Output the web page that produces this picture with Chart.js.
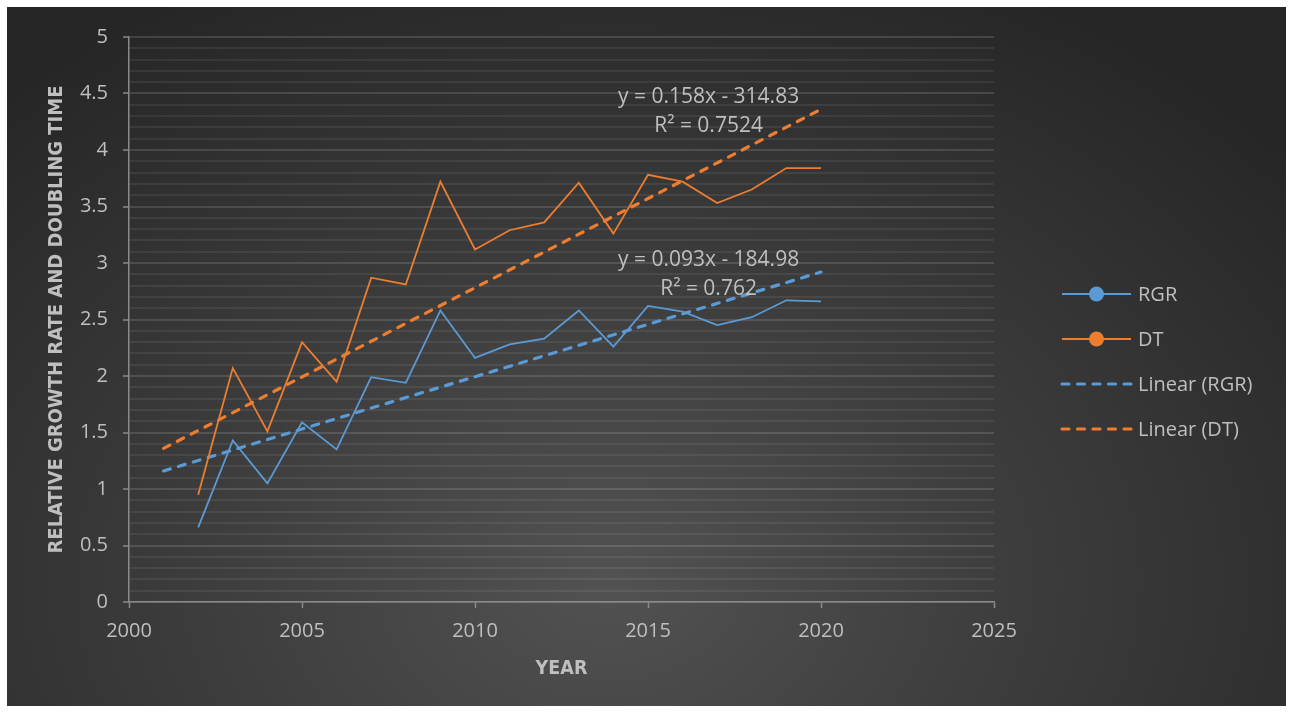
<!DOCTYPE html>
<html>
<head>
<meta charset="utf-8">
<script src="https://cdn.jsdelivr.net/npm/chart.js@4.4.1/dist/chart.umd.min.js"></script>
<style>
  html, body { margin: 0; padding: 0; background: #ffffff; }
  #wrap {
    position: absolute; left: 7px; top: 7px; width: 1279px; height: 699px;
    background: radial-gradient(ellipse 70% 95% at 47% 82%, #525252 0%, #3d3d3d 45%, #262626 100%);
  }
  canvas { display: block; }
</style>
</head>
<body>
<div id="wrap"><canvas id="chart" width="1279" height="699"></canvas></div>
<script>
const years = [2002, 2003, 2004, 2005, 2006, 2007, 2008, 2009, 2010, 2011,
               2012, 2013, 2014, 2015, 2016, 2017, 2018, 2019, 2020];
const rgr = [0.66, 1.43, 1.05, 1.59, 1.35, 1.99, 1.94, 2.58, 2.16, 2.28,
             2.33, 2.58, 2.26, 2.62, 2.57, 2.45, 2.52, 2.67, 2.66];
const dt = [0.95, 2.07, 1.51, 2.30, 1.95, 2.87, 2.81, 3.72, 3.12, 3.29,
            3.36, 3.71, 3.26, 3.78, 3.72, 3.53, 3.65, 3.84, 3.84];
// trend lines as drawn (one period forecast backward)
const trendYears = [2001, 2020];
const rgrTrend = [1.16, 2.92];
const dtTrend = [1.36, 4.36];

const xTicks = [2000, 2005, 2010, 2015, 2020, 2025];
const legendLabels = ['RGR', 'DT', 'Linear (RGR)', 'Linear (DT)'];
const dtEquation = ['y = 0.158x - 314.83', 'R² = 0.7524'];
const rgrEquation = ['y = 0.093x - 184.98', 'R² = 0.762'];

const blue = '#5b9bd5';
const orange = '#ed7d31';
const textColor = '#bfbfbf';
const axisColor = '#8a8a8a';
const tickFont = { family: "'Open Sans', sans-serif", size: 20 };
const titleFamily = "'Liberation Sans Narrow', 'DejaVu Sans Condensed', sans-serif";

const toPoints = (xs, ys) => xs.map((x, i) => ({ x: x, y: ys[i] }));
const isMajor = v => Math.abs(v * 2 - Math.round(v * 2)) < 1e-6;

// equations placed in data coordinates
const equationPlugin = {
  id: 'equations',
  afterDatasetsDraw(chart) {
    const { ctx, scales } = chart;
    const blocks = [
      { lines: dtEquation, x: 2016.75, y: 4.47 },
      { lines: rgrEquation, x: 2016.75, y: 3.03 }
    ];
    ctx.save();
    ctx.font = "21px 'Open Sans', sans-serif";
    ctx.fillStyle = textColor;
    ctx.textAlign = 'center';
    ctx.textBaseline = 'middle';
    blocks.forEach(b => {
      const px = scales.x.getPixelForValue(b.x);
      const py = scales.y.getPixelForValue(b.y);
      b.lines.forEach((t, i) => ctx.fillText(t, px, py + i * 29));
    });
    ctx.restore();
  }
};

// Excel-like legend: line with marker, or dashed line
const legendPlugin = {
  id: 'sideLegend',
  afterDraw(chart) {
    const { ctx, chartArea } = chart;
    const x0 = chartArea.right + 68;
    const x1 = x0 + 69;
    let y = 287;
    ctx.save();
    ctx.font = "20px 'Open Sans', sans-serif";
    ctx.textBaseline = 'middle';
    ctx.textAlign = 'left';
    chart.data.datasets.forEach((ds, i) => {
      ctx.strokeStyle = ds.borderColor;
      if (ds.borderDash && ds.borderDash.length) {
        ctx.lineWidth = 3.2;
        ctx.lineCap = 'round';
        ctx.setLineDash(ds.borderDash);
      } else {
        ctx.lineWidth = 1.8;
        ctx.lineCap = 'butt';
        ctx.setLineDash([]);
      }
      ctx.beginPath();
      ctx.moveTo(x0, y);
      ctx.lineTo(x1, y);
      ctx.stroke();
      ctx.setLineDash([]);
      if (!ds.borderDash || !ds.borderDash.length) {
        ctx.fillStyle = ds.borderColor;
        ctx.beginPath();
        ctx.arc((x0 + x1) / 2, y, 7.5, 0, Math.PI * 2);
        ctx.fill();
      }
      ctx.fillStyle = textColor;
      ctx.fillText(legendLabels[i], x1 + 7, y + 1);
      y += 45;
    });
    ctx.restore();
  }
};

const ctx = document.getElementById('chart');
const config = {
  type: 'line',
  data: {
    datasets: [{
      label: legendLabels[0],
      data: toPoints(years, rgr),
      borderColor: blue,
      borderWidth: 1.8,
      pointRadius: 0,
      tension: 0
    }, {
      label: legendLabels[1],
      data: toPoints(years, dt),
      borderColor: orange,
      borderWidth: 1.8,
      pointRadius: 0,
      tension: 0
    }, {
      label: legendLabels[2],
      data: toPoints(trendYears, rgrTrend),
      borderColor: blue,
      borderWidth: 3.2,
      borderDash: [7, 8.5],
      borderCapStyle: 'round',
      pointRadius: 0
    }, {
      label: legendLabels[3],
      data: toPoints(trendYears, dtTrend),
      borderColor: orange,
      borderWidth: 3.2,
      borderDash: [7, 8.5],
      borderCapStyle: 'round',
      pointRadius: 0
    }]
  },
  options: {
    responsive: false,
    animation: false,
    layout: { padding: { left: 0, top: 30, right: 292, bottom: 0 } },
    plugins: {
      legend: { display: false },
      tooltip: { enabled: false }
    },
    scales: {
      x: {
        type: 'linear',
        min: 2000,
        max: 2025,
        afterBuildTicks: scale => { scale.ticks = xTicks.map(v => ({ value: v })); },
        afterFit: scale => { scale.height = 104; },
        ticks: { color: textColor, font: tickFont, padding: 11, maxRotation: 0,
                 callback: v => String(v) },
        grid: { drawOnChartArea: false, drawTicks: true, tickLength: 6,
                tickColor: axisColor, tickWidth: 1.5 },
        border: { color: axisColor, width: 1.5 },
        title: { display: true, text: 'YEAR', color: textColor,
                 font: { family: titleFamily, size: 19.5, weight: 'bold' },
                 padding: { top: 0, bottom: 25 } }
      },
      y: {
        min: 0,
        max: 5,
        afterFit: scale => { scale.width = 122; },
        ticks: {
          stepSize: 0.1,
          autoSkip: false,
          color: textColor,
          font: tickFont,
          padding: 15,
          callback: v => isMajor(v) ? String(Math.round(v * 10) / 10) : ''
        },
        grid: {
          tickLength: 6,
          lineWidth: 2,
          color: c => isMajor(c.tick.value) ? 'rgba(255,255,255,0.13)' : 'rgba(255,255,255,0.07)',
          tickColor: c => isMajor(c.tick.value) ? axisColor : 'rgba(0,0,0,0)',
          tickWidth: 1.5
        },
        border: { color: axisColor, width: 1.5 },
        title: { display: true, text: 'RELATIVE GROWTH RATE AND DOUBLING TIME', color: textColor,
                 font: { family: titleFamily, size: 20, weight: 'bold' },
                 padding: { top: 38, bottom: 0 } }
      }
    }
  },
  plugins: [equationPlugin, legendPlugin]
};
const chart = new Chart(ctx, config);
</script>
</body>
</html>
